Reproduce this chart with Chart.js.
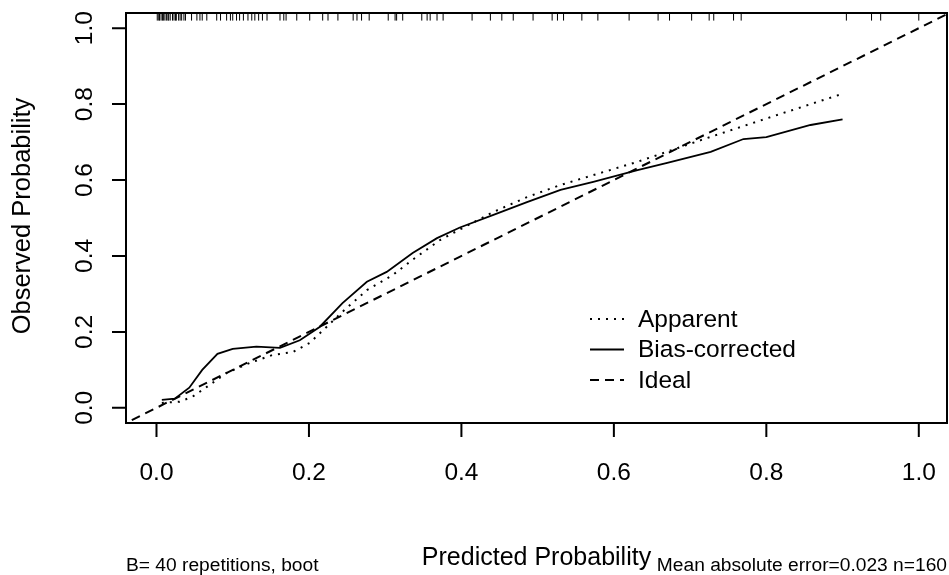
<!DOCTYPE html>
<html>
<head>
<meta charset="utf-8">
<script src="https://cdn.jsdelivr.net/npm/chart.js@4.4.0/dist/chart.umd.min.js"></script>
<style>
  body { margin: 0; background: #fff; }
</style>
</head>
<body>
<canvas id="calChart" width="949" height="575"></canvas>
<script>
// values
const apparentX = [0.007, 0.03, 0.047, 0.066, 0.092, 0.122, 0.152, 0.179, 0.201, 0.223, 0.244, 0.276, 0.31, 0.336, 0.372, 0.402, 0.442, 0.486, 0.53, 0.573, 0.631, 0.714, 0.8, 0.898];
const apparentY = [0.013, 0.016, 0.029, 0.055, 0.092, 0.118, 0.139, 0.147, 0.171, 0.213, 0.253, 0.31, 0.35, 0.39, 0.442, 0.474, 0.516, 0.555, 0.587, 0.613, 0.648, 0.705, 0.762, 0.826];
const biasX = [0.007, 0.024, 0.043, 0.06, 0.08, 0.1, 0.131, 0.162, 0.188, 0.214, 0.244, 0.276, 0.302, 0.336, 0.368, 0.398, 0.442, 0.486, 0.53, 0.573, 0.631, 0.67, 0.727, 0.77, 0.8, 0.858, 0.9];
const biasY = [0.021, 0.024, 0.053, 0.1, 0.142, 0.155, 0.161, 0.158, 0.178, 0.213, 0.276, 0.332, 0.358, 0.408, 0.447, 0.475, 0.508, 0.542, 0.574, 0.595, 0.626, 0.645, 0.674, 0.708, 0.713, 0.745, 0.76];
const idealX = [-0.05, 1.05];
const rugX = [0.001, 0.003, 0.004, 0.006, 0.008, 0.009, 0.011, 0.013, 0.015, 0.016, 0.018, 0.021, 0.023, 0.025, 0.026, 0.029, 0.031, 0.033, 0.036, 0.038,
  0.046, 0.053, 0.057, 0.06, 0.066, 0.079, 0.084, 0.092, 0.097, 0.1, 0.105, 0.109, 0.114, 0.12, 0.125, 0.129, 0.134, 0.139, 0.145,
  0.162, 0.167, 0.17, 0.184, 0.201, 0.218, 0.225, 0.238, 0.258, 0.263, 0.269, 0.279, 0.304, 0.313, 0.315, 0.323, 0.348, 0.355, 0.359, 0.368, 0.376,
  0.414, 0.438, 0.453, 0.468, 0.494, 0.519, 0.526, 0.534, 0.558, 0.579, 0.62, 0.658, 0.673, 0.702, 0.725, 0.731, 0.757, 0.767, 0.905, 0.938, 0.95, 1.0];
const tickValues = [0, 0.2, 0.4, 0.6, 0.8, 1.0];
const tickLabels = ["0.0", "0.2", "0.4", "0.6", "0.8", "1.0"];
const xTitle = "Predicted Probability";
const yTitle = "Observed Probability";
const legendLabels = ["Apparent", "Bias-corrected", "Ideal"];
const subLeft = "B= 40 repetitions, boot";
const subRight = "Mean absolute error=0.023 n=160";

const FONT = "'Liberation Sans', Arial, sans-serif";
const dotted = [2, 6];
const dashed = [9, 6];

const toPoints = (xs, ys) => xs.map((x, i) => ({ x, y: ys[i] }));

// box, ticks, labels, legend and subtitles in R base-graphics style
const rDecor = {
  id: "rDecor",
  afterDraw(chart) {
    const { ctx, chartArea: a, scales: { x, y } } = chart;
    ctx.save();
    ctx.strokeStyle = "#000";
    ctx.fillStyle = "#000";
    ctx.lineWidth = 2;
    ctx.setLineDash([]);
    ctx.strokeRect(a.left, a.top, a.right - a.left, a.bottom - a.top);

    ctx.beginPath();
    tickValues.forEach(v => {
      const px = x.getPixelForValue(v);
      ctx.moveTo(px, a.bottom);
      ctx.lineTo(px, a.bottom + 14);
      const py = y.getPixelForValue(v);
      ctx.moveTo(a.left, py);
      ctx.lineTo(a.left - 14, py);
    });
    ctx.stroke();

    ctx.font = "24.5px " + FONT;
    ctx.textAlign = "center";
    ctx.textBaseline = "alphabetic";
    tickValues.forEach((v, i) => {
      ctx.fillText(tickLabels[i], x.getPixelForValue(v), 480);
      ctx.save();
      ctx.translate(92, y.getPixelForValue(v));
      ctx.rotate(-Math.PI / 2);
      ctx.fillText(tickLabels[i], 0, 0);
      ctx.restore();
    });

    ctx.font = "25px " + FONT;
    ctx.fillText(xTitle, (a.left + a.right) / 2, 565);
    ctx.font = "25.5px " + FONT;
    ctx.save();
    ctx.translate(30, (a.top + a.bottom) / 2 - 2);
    ctx.rotate(-Math.PI / 2);
    ctx.fillText(yTitle, 0, 0);
    ctx.restore();

    // legend
    const styles = [dotted, [], dashed];
    ctx.font = "24.5px " + FONT;
    ctx.textAlign = "left";
    ctx.textBaseline = "middle";
    legendLabels.forEach((lab, i) => {
      const ly = 319 + i * 30.5;
      ctx.setLineDash(styles[i]);
      ctx.lineWidth = 2;
      ctx.beginPath();
      ctx.moveTo(590, ly);
      ctx.lineTo(624, ly);
      ctx.stroke();
      ctx.setLineDash([]);
      ctx.fillText(lab, 638, ly + 1);
    });

    ctx.font = "19.2px " + FONT;
    ctx.textBaseline = "alphabetic";
    ctx.textAlign = "left";
    ctx.fillText(subLeft, a.left, 571);
    ctx.textAlign = "right";
    ctx.fillText(subRight, a.right, 571);
    ctx.restore();
  }
};

new Chart(document.getElementById("calChart").getContext("2d"), {
  type: "line",
  data: {
    datasets: [
      {
        label: "Ideal",
        data: toPoints(idealX, idealX),
        borderColor: "#000",
        borderWidth: 2,
        borderDash: dashed,
        pointRadius: 0,
        tension: 0
      },
      {
        label: "Apparent",
        data: toPoints(apparentX, apparentY),
        borderColor: "#000",
        borderWidth: 2,
        borderDash: dotted,
        pointRadius: 0,
        tension: 0
      },
      {
        label: "Bias-corrected",
        data: toPoints(biasX, biasY),
        borderColor: "#000",
        borderWidth: 1.8,
        pointRadius: 0,
        tension: 0
      },
      {
        type: "scatter",
        label: "rug",
        data: rugX.map(v => ({ x: v, y: 1.03 })),
        pointStyle: "line",
        rotation: 90,
        pointRadius: 3.8,
        borderColor: "#000",
        borderWidth: 1,
        showLine: false
      }
    ]
  },
  options: {
    responsive: false,
    devicePixelRatio: 1,
    animation: false,
    layout: { autoPadding: false, padding: { left: 126, top: 13, right: 2, bottom: 152 } },
    plugins: { legend: { display: false }, tooltip: { enabled: false } },
    scales: {
      x: { type: "linear", min: -0.04, max: 1.037, display: false },
      y: { type: "linear", min: -0.04, max: 1.04, display: false }
    }
  },
  plugins: [rDecor]
});
</script>
</body>
</html>
